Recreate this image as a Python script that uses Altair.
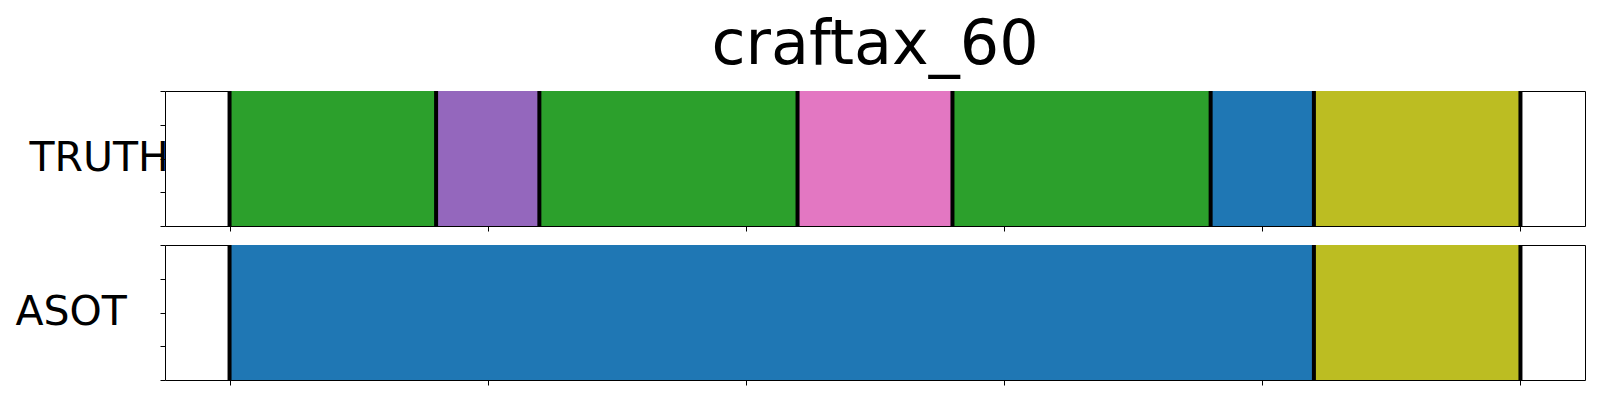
import altair as alt
import pandas as pd

# ---- data ----
truth_start = [0, 80, 120, 220, 280, 380, 420]
truth_end = [80, 120, 220, 280, 380, 420, 500]
truth_class = ["2", "4", "2", "6", "2", "0", "8"]

asot_start = [0, 420]
asot_end = [420, 500]
asot_class = ["0", "8"]

x_ticks = [0, 100, 200, 300, 400, 500]
y_ticks = [0, 0.25, 0.5, 0.75, 1]
x_domain = [-25, 525]

class_ids = ["0", "2", "4", "6", "8"]
class_colors = ["#1f77b4", "#2ca02c", "#9467bd", "#e377c2", "#bcbd22"]

FONT = "DejaVu Sans"


def panel(name, starts, ends, classes, title_x, title=None):
    seg = pd.DataFrame({"start": starts, "end": ends, "cls": classes,
                        "y0": 0.0, "y1": 1.0})
    bounds = sorted(set(starts) | set(ends))
    bd = pd.DataFrame({"start": bounds, "y0": 0.0, "y1": 1.0})
    xs = alt.Scale(domain=x_domain, nice=False, zero=False)
    ys = alt.Scale(domain=[0, 1], nice=False, zero=False)
    xaxis = alt.Axis(values=x_ticks, labels=False, title=None, ticks=True,
                     tickSize=5, tickColor="black", tickWidth=1,
                     domain=False, grid=False)
    yaxis = alt.Axis(values=y_ticks, labels=False, title=name, titleAngle=0,
                     titleAlign="left", titleBaseline="alphabetic",
                     titleX=title_x, titleY=79, titleFontSize=41,
                     titleFont=FONT, titleFontWeight="normal",
                     titleColor="black", ticks=True, tickSize=5,
                     tickColor="black", tickWidth=1, domain=False, grid=False)
    rects = alt.Chart(seg).mark_rect().encode(
        x=alt.X("start:Q", scale=xs, axis=xaxis),
        x2="end:Q",
        y=alt.Y("y0:Q", scale=ys, axis=yaxis),
        y2="y1:Q",
        color=alt.Color("cls:N",
                        scale=alt.Scale(domain=class_ids, range=class_colors),
                        legend=None),
    )
    rules = alt.Chart(bd).mark_rule(color="black", strokeWidth=4).encode(
        x=alt.X("start:Q", scale=xs, axis=xaxis),
        y=alt.Y("y0:Q", scale=ys, axis=yaxis),
        y2="y1:Q",
    )
    props = dict(width=1420, height=135)
    if title is not None:
        props["title"] = title
    return alt.layer(rects, rules).properties(**props)


title = alt.TitleParams("craftax_60", fontSize=62, font=FONT,
                        fontWeight="normal", color="black", anchor="middle",
                        offset=12)

top = panel("TRUTH", truth_start, truth_end, truth_class, -136, title)
bottom = panel("ASOT", asot_start, asot_end, asot_class, -150)

chart = alt.vconcat(top, bottom, spacing=10).properties(
    padding={"left": 6, "top": 5, "right": 5, "bottom": 5},
    background="white",
).configure_view(stroke="black", strokeWidth=1).resolve_scale(color="shared")

chart.save("out.html", embed_options={"renderer": "svg", "actions": False})
